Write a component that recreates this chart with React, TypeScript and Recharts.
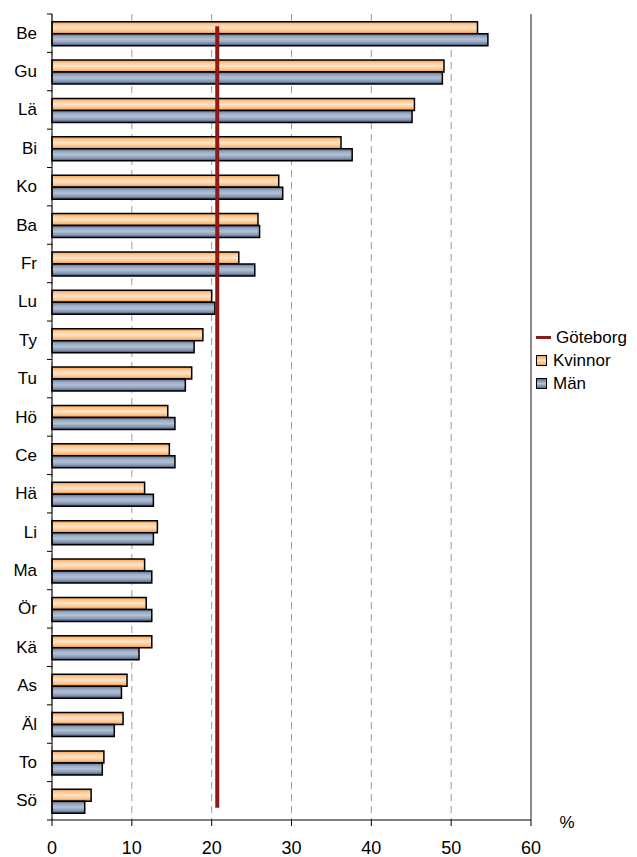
import {
  BarChart,
  Bar,
  XAxis,
  YAxis,
  CartesianGrid,
  ReferenceLine,
} from 'recharts'

const categories = ['Be', 'Gu', 'Lä', 'Bi', 'Ko', 'Ba', 'Fr', 'Lu', 'Ty', 'Tu', 'Hö', 'Ce', 'Hä', 'Li', 'Ma', 'Ör', 'Kä', 'As', 'Äl', 'To', 'Sö']
const kvinnor = [53.3, 49.1, 45.4, 36.2, 28.4, 25.8, 23.4, 20.0, 18.9, 17.5, 14.5, 14.7, 11.6, 13.2, 11.6, 11.8, 12.5, 9.4, 8.9, 6.5, 4.9]
const man = [54.6, 48.9, 45.1, 37.6, 28.9, 26.0, 25.4, 20.4, 17.8, 16.7, 15.4, 15.4, 12.7, 12.7, 12.5, 12.5, 10.9, 8.7, 7.8, 6.3, 4.1]
const goteborg = 20.7
const xTicks = [0, 10, 20, 30, 40, 50, 60]

const data = categories.map((name, i) => ({ name, kvinnor: kvinnor[i], man: man[i] }))

const FONT = '"Liberation Sans", Arial, sans-serif'

function CategoryTick(props: any) {
  const { x, y, payload, index, visibleTicksCount } = props
  const off = payload.offset ?? 19
  const isLast = index === visibleTicksCount - 1
  return (
    <g>
      <line x1={x + 10} x2={x + 15} y1={y - off} y2={y - off} stroke="#000" />
      {isLast && <line x1={x + 10} x2={x + 15} y1={y + off} y2={y + off} stroke="#000" />}
      <text x={x} y={y} textAnchor="end" dominantBaseline="central" fontSize={17} fill="#000" fontFamily={FONT}>
        {payload.value}
      </text>
    </g>
  )
}

// Göteborg line runs a little past the first and last category centres
function GbgLine(props: any) {
  const { x1, y1, x2, y2 } = props
  return <line x1={x1} x2={x2} y1={y1 - 7} y2={y2 + 7} stroke="#8b1a1a" strokeWidth={4} />
}

function LegendBox() {
  const row = { display: 'flex', alignItems: 'center', height: 23, fontSize: 17, color: '#000' }
  return (
    <div style={{ position: 'absolute', left: 536, top: 326, fontFamily: FONT }}>
      <div style={row}>
        <span style={{ display: 'inline-block', width: 15, height: 3, background: '#8b1a1a', marginRight: 5 }} />
        Göteborg
      </div>
      <div style={row}>
        <span style={{ display: 'inline-block', width: 9, height: 9, border: '1.5px solid #000', background: 'linear-gradient(#f7a25a, #fde0c0, #f7a25a)', marginRight: 6 }} />
        Kvinnor
      </div>
      <div style={row}>
        <span style={{ display: 'inline-block', width: 9, height: 9, border: '1.5px solid #000', background: 'linear-gradient(#5a6d8c, #b4c3d6, #5a6d8c)', marginRight: 6 }} />
        Män
      </div>
    </div>
  )
}

export default function App() {
  return (
    <div style={{ position: 'absolute', left: 0, top: 0, width: 637, height: 857, background: '#fff', fontFamily: FONT }}>
      <BarChart
        width={637}
        height={857}
        data={data}
        layout="vertical"
        margin={{ top: 14, right: 106, left: 8, bottom: 0 }}
        barCategoryGap="20%"
        barGap={0}
      >
        <defs>
          <linearGradient id="gradK" x1="0" y1="0" x2="0" y2="1">
            <stop offset="0%" stopColor="#f39240" />
            <stop offset="22%" stopColor="#fbc995" />
            <stop offset="50%" stopColor="#fee3c6" />
            <stop offset="78%" stopColor="#fbc48c" />
            <stop offset="100%" stopColor="#ef8a30" />
          </linearGradient>
          <linearGradient id="gradM" x1="0" y1="0" x2="0" y2="1">
            <stop offset="0%" stopColor="#56698a" />
            <stop offset="25%" stopColor="#9aabc3" />
            <stop offset="50%" stopColor="#b3c1d4" />
            <stop offset="78%" stopColor="#8496b2" />
            <stop offset="100%" stopColor="#3a4c6c" />
          </linearGradient>
        </defs>
        <CartesianGrid horizontal={false} stroke="#9a9a9a" strokeDasharray="7 5" />
        <XAxis
          type="number"
          domain={[0, 60]}
          ticks={xTicks}
          height={37}
          axisLine={{ stroke: '#000' }}
          tickLine={{ stroke: '#000' }}
          tickSize={6}
          tickMargin={15}
          tick={{ fill: '#000', fontSize: 18, fontFamily: FONT }}
          label={{
            content: (p: any) => (
              <text x={p.viewBox.x + p.viewBox.width + 36} y={p.viewBox.y + 2} textAnchor="middle" dominantBaseline="central" fontSize={17} fill="#000" fontFamily={FONT}>
                %
              </text>
            ),
          }}
        />
        <XAxis
          xAxisId="top"
          orientation="top"
          type="number"
          domain={[0, 60]}
          height={0}
          tick={false}
          tickLine={false}
          axisLine={{ stroke: '#999', strokeWidth: 1.5 }}
        />
        <YAxis
          type="category"
          dataKey="name"
          width={44}
          tickSize={5}
          tickMargin={10}
          tickLine={false}
          axisLine={{ stroke: '#000' }}
          tick={<CategoryTick />}
          interval={0}
        />
        <ReferenceLine x={60} stroke="#8c8c8c" strokeWidth={2} />
        <Bar dataKey="kvinnor" name="Kvinnor" fill="url(#gradK)" stroke="#000" strokeWidth={1.5} isAnimationActive={false} />
        <Bar dataKey="man" name="Män" fill="url(#gradM)" stroke="#000" strokeWidth={1.5} isAnimationActive={false} />
        <ReferenceLine
          segment={[{ x: goteborg, y: categories[0] }, { x: goteborg, y: categories[categories.length - 1] }]}
          stroke="#8b1a1a"
          strokeWidth={4}
          shape={<GbgLine />}
        />
      </BarChart>
      <LegendBox />
    </div>
  )
}
